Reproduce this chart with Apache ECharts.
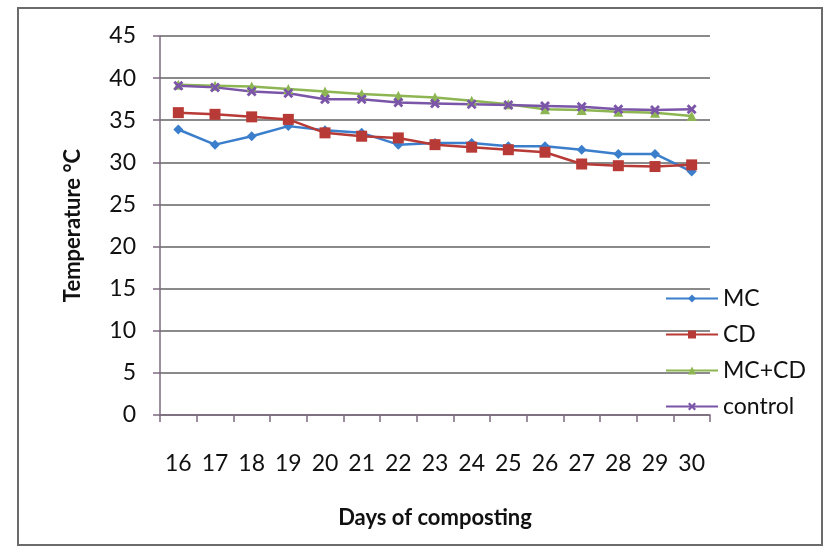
<!DOCTYPE html>
<html>
<head>
<meta charset="utf-8">
<script src="https://cdn.jsdelivr.net/npm/echarts@6/dist/echarts.min.js"></script>
<style>
  html, body { margin: 0; padding: 0; background: #fff; }
  #chart { width: 832px; height: 553px; }
</style>
</head>
<body>
<div id="chart"></div>
<script>
const days = ['16', '17', '18', '19', '20', '21', '22', '23', '24', '25', '26', '27', '28', '29', '30'];
const mc = [33.9, 32.1, 33.1, 34.3, 33.8, 33.5, 32.1, 32.3, 32.3, 31.9, 31.9, 31.5, 31.0, 31.0, 28.9];
const cd = [35.9, 35.7, 35.4, 35.1, 33.5, 33.1, 32.9, 32.1, 31.8, 31.5, 31.2, 29.8, 29.6, 29.5, 29.7];
const mcCd = [39.2, 39.1, 39.0, 38.7, 38.4, 38.1, 37.9, 37.7, 37.3, 36.9, 36.3, 36.2, 36.0, 35.9, 35.5];
const control = [39.1, 38.9, 38.4, 38.2, 37.5, 37.5, 37.1, 37.0, 36.9, 36.8, 36.7, 36.6, 36.3, 36.2, 36.3];

const font = 'Lato, "Open Sans", sans-serif';
const chart = echarts.init(document.getElementById('chart'));

// small x-shaped marker for the control series
const cross = 'path://M2,0 L5,3 L8,0 L10,2 L7,5 L10,8 L8,10 L5,7 L2,10 L0,8 L3,5 L0,2 Z';

const mk = (name, data, color, symbol, size) => ({
  name,
  type: 'line',
  data,
  symbol,
  symbolSize: size,
  lineStyle: { color, width: 2.5 },
  itemStyle: { color },
});

chart.setOption({
  animation: false,
  textStyle: { fontFamily: font },
  graphic: [{
    type: 'rect',
    shape: { x: 18, y: 8, width: 804, height: 537 },
    style: { fill: 'none', stroke: '#6b6b6b', lineWidth: 2 },
    silent: true,
  }],
  grid: { left: 160, right: 122, top: 36, bottom: 138 },
  legend: {
    orient: 'vertical',
    left: 660,
    top: 282,
    itemWidth: 52,
    itemHeight: 10,
    itemGap: 13,
    textStyle: { fontSize: 23, color: '#111', fontFamily: font },
    data: ['MC', 'CD', 'MC+CD', 'control'],
  },
  xAxis: {
    type: 'category',
    data: days,
    boundaryGap: true,
    name: 'Days of composting',
    nameLocation: 'middle',
    nameGap: 92,
    nameTextStyle: { fontSize: 22, fontWeight: 'bold', color: '#111', fontFamily: font },
    axisLine: { lineStyle: { color: '#7d6a80', width: 1.5 } },
    axisTick: { show: true, length: 7, lineStyle: { color: '#7d6a80', width: 1.5 } },
    axisLabel: { fontSize: 23, color: '#111', margin: 37, fontFamily: font },
  },
  yAxis: {
    type: 'value',
    min: 0,
    max: 45,
    interval: 5,
    name: 'Temperature \u00b0C',
    nameLocation: 'middle',
    nameGap: 76,
    nameTextStyle: { fontSize: 22, fontWeight: 'bold', color: '#111', fontFamily: font },
    axisLine: { show: true, lineStyle: { color: '#7d6a80', width: 1.5 } },
    axisTick: { show: true, length: 7, lineStyle: { color: '#7d6a80', width: 1.5 } },
    axisLabel: { fontSize: 23, color: '#111', margin: 24, fontFamily: font },
    splitLine: { lineStyle: { color: '#8a8a8a', width: 2 } },
  },
  series: [
    mk('MC', mc, '#3b7fcc', 'diamond', 10),
    mk('CD', cd, '#b83a36', 'rect', 11),
    mk('MC+CD', mcCd, '#8db653', 'triangle', 10),
    mk('control', control, '#7a55a8', cross, 10),
  ],
});
</script>
</body>
</html>
